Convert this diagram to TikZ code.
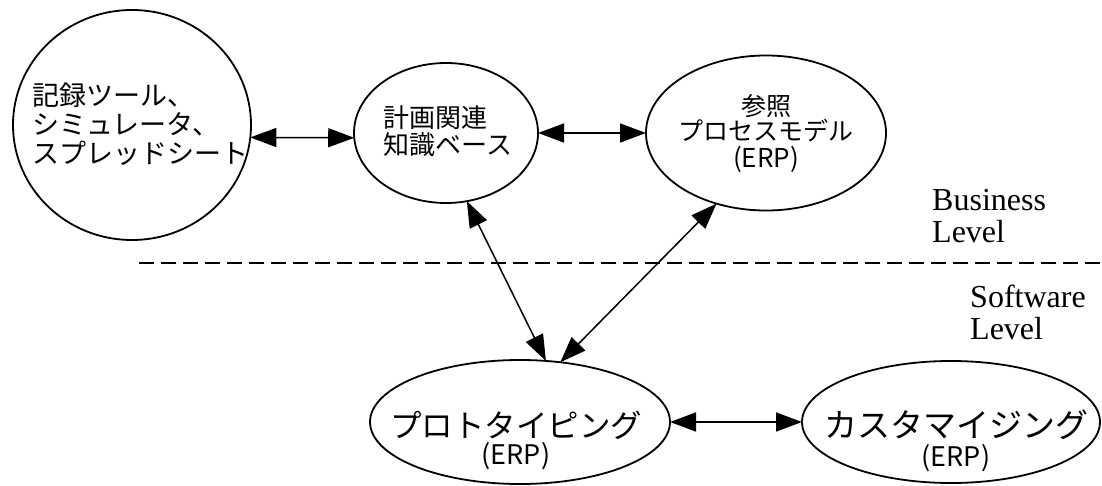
\documentclass[tikz,border=0pt]{standalone}
\usepackage{fontspec}
\setmainfont{Liberation Serif}
\newfontfamily\jp{Noto Sans CJK JP}
\usetikzlibrary{arrows.meta,shapes.geometric}
\lineskiplimit=-100pt
\tikzset{
  ell/.style={draw, ellipse, line width=1.8pt, inner sep=0pt, outer sep=0pt},
  lbl/.style={inner sep=0pt, outer sep=0pt},
  conn/.style={line width=1.5pt, {Triangle[length=26pt,width=19pt]}-{Triangle[length=26pt,width=19pt]}},
  levelline/.style={line width=2.6pt, dash pattern=on 15pt off 7pt},
  lvl/.style={inner sep=0pt, anchor=west, align=left, font=\fontsize{32}{32}\selectfont}
}
\begin{document}
\begin{tikzpicture}[x=1pt,y=-1pt]
\useasboundingbox (0,0) rectangle (1102,486);
\fill[white] (0,0) rectangle (1102,486);
% shapes
\node[ell, minimum width=238pt, minimum height=230pt] (c1) at (132,125) {};
\node[ell, minimum width=184pt, minimum height=140pt] (e2) at (446,133) {};
\node[ell, minimum width=240pt, minimum height=155pt] (e3) at (766,133) {};
\node[ell, minimum width=300pt, minimum height=124pt] (e4) at (520,422) {};
\node[ell, minimum width=298pt, minimum height=122pt] (e5) at (951,422) {};
% texts
\node[lbl, align=left, font=\jp\fontsize{27}{29}\selectfont] (t1) at (140,124) {記録ツール、\\シミュレータ、\\スプレッドシート};
\node[lbl, align=left, font=\jp\fontsize{26}{27}\selectfont] (t2) at (448,131) {計画関連\\知識ベース};
\node[lbl, align=center, font=\jp\fontsize{25}{25}\selectfont] (t3) at (766,134) {参照\\プロセスモデル\\[2pt]{\fontsize{26}{25}\selectfont(ERP)}};
\node[lbl, align=center, font=\jp\fontsize{31.5}{27}\selectfont] (t4) at (516,440) {プロトタイピング\\{\fontsize{27}{27}\selectfont(ERP)}};
\node[lbl, align=center, font=\jp\fontsize{33}{29}\selectfont] (t5) at (956,441) {カスタマイジング\\{\fontsize{27}{29}\selectfont(ERP)}};
\node[lvl] (bl) at (932,216) {Business\\Level};
\node[lvl] (sl) at (970,312) {Software\\Level};
% level separator
\coordinate (dl) at (139,263);
\coordinate (dr) at (1102,263);
\draw[levelline] (dl) -- (dr);
% connectors
\draw[conn] (c1.-6) -- (e2.183);
\draw[conn] (e2.east) -- (e3.west);
\draw[conn] (e2.-73) -- (e4.67);
\draw[conn] (e3.-125) -- (e4.56);
\draw[conn] (e4.east) -- (e5.west);
\end{tikzpicture}
\end{document}
